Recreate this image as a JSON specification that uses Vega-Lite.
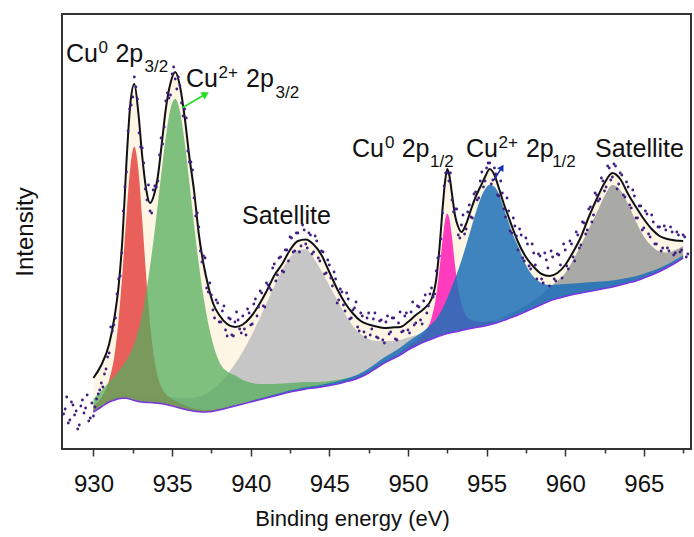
{
  "$schema": "https://vega.github.io/schema/vega-lite/v6.json",
  "width": 629,
  "height": 435,
  "autosize": {"type": "none"},
  "padding": {"left": 62, "top": 14, "right": 3, "bottom": 88},
  "background": "white",
  "config": {
    "view": {"stroke": "#333333", "strokeWidth": 2},
    "font": "Liberation Sans"
  },
  "datasets": {
    "curves": [
      {"e":930,"bg":37,"env":71,"red":43,"grn":50.3,"s1":40.5},
      {"e":930.5,"bg":42,"env":84,"red":51.6,"grn":58.3,"s1":45.7},
      {"e":931,"bg":47,"env":105,"red":69,"grn":67,"s1":51},
      {"e":931.35,"bg":49,"env":133,"red":95,"grn":72.9,"s1":53.2},
      {"e":931.6,"bg":50.2,"env":163,"red":129.2,"grn":77.7,"s1":54.6},
      {"e":931.85,"bg":50.7,"env":212,"red":177.7,"grn":82.9,"s1":55.3},
      {"e":932.1,"bg":50.8,"env":287,"red":233.8,"grn":89.1,"s1":55.6},
      {"e":932.35,"bg":49.6,"env":346,"red":282.6,"grn":96.1,"s1":54.6},
      {"e":932.6,"bg":48.6,"env":365,"red":302.6,"grn":105.7,"s1":53.8},
      {"e":932.85,"bg":47.6,"env":337,"red":280.6,"grn":118.5,"s1":53.1},
      {"e":933.1,"bg":46.9,"env":293,"red":229.9,"grn":135.3,"s1":52.6},
      {"e":933.35,"bg":46.6,"env":260,"red":173.6,"grn":156.8,"s1":52.6},
      {"e":933.6,"bg":46.4,"env":246,"red":125.4,"grn":182.7,"s1":52.7},
      {"e":933.85,"bg":46.1,"env":254,"red":92.1,"grn":212.6,"s1":52.7},
      {"e":934.1,"bg":45.8,"env":273,"red":71.8,"grn":245.8,"s1":52.7},
      {"e":934.35,"bg":45.3,"env":306,"red":61.3,"grn":279.9,"s1":52.6},
      {"e":934.6,"bg":44.6,"env":340,"red":55.3,"grn":311.9,"s1":52.5},
      {"e":934.9,"bg":43.4,"env":366,"red":51.1,"grn":340.3,"s1":51.9},
      {"e":935.2,"bg":42.2,"env":377,"red":48.2,"grn":350.2,"s1":51.4},
      {"e":935.5,"bg":41,"env":363,"red":45.8,"grn":337.9,"s1":51},
      {"e":935.8,"bg":39.8,"env":332,"red":43.8,"grn":307.1,"s1":50.8},
      {"e":936.1,"bg":38.7,"env":292,"red":42,"grn":266.6,"s1":50.8},
      {"e":936.4,"bg":37.8,"env":258,"red":40.6,"grn":224.1,"s1":51.3},
      {"e":936.7,"bg":37.3,"env":215,"red":39.8,"grn":185.1,"s1":52.4},
      {"e":937,"bg":37,"env":185,"red":39.2,"grn":152.2,"s1":54},
      {"e":937.3,"bg":37.2,"env":163,"red":39.1,"grn":125.6,"s1":56.5},
      {"e":937.6,"bg":37.8,"env":146,"red":39.5,"grn":105.6,"s1":59.8},
      {"e":938,"bg":39,"env":134,"red":40.5,"grn":87.3,"s1":65.4},
      {"e":938.5,"bg":41,"env":125,"red":42.3,"grn":77.6,"s1":74.3},
      {"e":939,"bg":43,"env":122,"red":44.1,"grn":73.7,"s1":84.9},
      {"e":939.5,"bg":45,"env":124.5,"red":45.9,"grn":69,"s1":97.5},
      {"e":940,"bg":47,"env":132,"grn":66.3,"s1":112,"blue":48.2},
      {"e":940.5,"bg":49,"env":143.5,"grn":65.1,"s1":128.2,"blue":50.2},
      {"e":941,"bg":51,"env":157.5,"grn":65.1,"s1":145.4,"blue":52.3},
      {"e":941.5,"bg":53,"env":173.5,"grn":65.1,"s1":162.8,"blue":54.4},
      {"e":942,"bg":55,"env":185,"grn":65.4,"s1":178.9,"blue":56.5},
      {"e":942.5,"bg":57,"env":199,"grn":66.1,"s1":191.7,"blue":58.7},
      {"e":943,"bg":58.5,"env":208,"grn":66.5,"s1":199,"blue":60.3},
      {"e":943.5,"bg":60,"env":209.5,"grn":67.1,"s1":199.8,"blue":61.9},
      {"e":944,"bg":61,"env":204.5,"grn":67.1,"s1":191,"blue":63.1},
      {"e":944.5,"bg":62,"env":194,"grn":67.3,"s1":178,"blue":64.3},
      {"e":945,"bg":63.5,"env":177,"grn":68.1,"s1":163.5,"blue":66},
      {"e":945.5,"bg":65,"env":160,"grn":69,"s1":149,"blue":67.8},
      {"e":946,"bg":67,"env":146,"grn":70.5,"s1":135,"blue":70.1},
      {"e":946.5,"bg":69,"env":135.5,"grn":72,"s1":123,"blue":72.4},
      {"e":947,"bg":72,"env":128,"grn":74.8,"s1":115,"blue":75.9},
      {"e":947.5,"bg":76,"env":124.5,"grn":78.5,"s1":110,"blue":80.4},
      {"e":948,"bg":81,"env":122.5,"grn":83.4,"s1":108,"blue":85.9},
      {"e":948.5,"bg":86,"env":121,"grn":88.2,"s1":108,"blue":91.7},
      {"e":949,"bg":90,"env":121.5,"grn":92.1,"s1":108,"blue":96.3},
      {"e":949.5,"bg":94,"env":122,"grn":95.9,"s1":109,"pink":96.5,"blue":101.2},
      {"e":950,"bg":99,"env":127,"grn":100.8,"s1":111.5,"pink":102.5,"blue":107.2},
      {"e":950.5,"bg":103,"env":134,"grn":104.7,"s1":113.7,"pink":108.3,"blue":112.5},
      {"e":951,"bg":107,"env":140,"s1":116.3,"pink":116,"blue":118},
      {"e":951.5,"bg":110,"env":150,"s1":118.2,"pink":131,"blue":125},
      {"e":951.8,"bg":111.8,"env":170,"s1":119.4,"pink":153.8,"blue":130},
      {"e":952,"bg":113,"env":200,"s1":120.3,"pink":179,"blue":135},
      {"e":952.2,"bg":114,"env":240,"s1":121,"pink":209,"blue":140.5},
      {"e":952.35,"bg":114.8,"env":266,"s1":121.6,"pink":227.8,"blue":145.5},
      {"e":952.5,"bg":115.5,"env":280,"s1":122.1,"pink":235.5,"blue":151},
      {"e":952.65,"bg":116,"env":272,"s1":122.4,"pink":229,"blue":156.5},
      {"e":952.8,"bg":116.6,"env":255,"s1":122.8,"pink":211.6,"blue":162.5},
      {"e":953,"bg":117,"env":233,"s1":123,"pink":183,"blue":170.4},
      {"e":953.2,"bg":117.8,"env":222,"s1":123.5,"pink":159.8,"blue":179.2},
      {"e":953.4,"bg":118.6,"env":217,"s1":124.1,"pink":145.6,"blue":188.6},
      {"e":953.7,"bg":119.6,"env":225,"s1":124.8,"pink":133.6,"blue":203.8},
      {"e":954,"bg":120.5,"env":239,"s1":125.5,"pink":129.5,"blue":219.8},
      {"e":954.3,"bg":121.4,"env":252,"s1":126.2,"pink":127.9,"blue":235.7},
      {"e":954.6,"bg":122.3,"env":262,"s1":126.8,"pink":127.3,"blue":249.8},
      {"e":954.9,"bg":123,"env":272,"s1":127.3,"pink":126.8,"blue":259.7},
      {"e":955.2,"bg":124.2,"env":280,"s1":128.3,"pink":127.2,"blue":264.2},
      {"e":955.5,"bg":125.5,"env":274,"s1":129.5,"pink":128,"blue":262.2},
      {"e":955.8,"bg":127,"env":260,"s1":130.9,"blue":254.5},
      {"e":956.1,"bg":128.6,"env":245,"s1":132.4,"blue":240.5,"s2":132.6},
      {"e":956.4,"bg":130.4,"env":232,"s1":134.1,"blue":227,"s2":134.8},
      {"e":956.7,"bg":132.2,"env":219,"s1":135.8,"blue":213.5,"s2":137},
      {"e":957,"bg":134,"env":207,"s1":137.5,"blue":203,"s2":139.3},
      {"e":957.5,"bg":137.5,"env":192,"s1":140.8,"blue":184,"s2":143.8},
      {"e":958,"bg":141,"env":182,"s1":144.1,"blue":172,"s2":148.9},
      {"e":958.5,"bg":144.5,"env":175,"s1":147.4,"blue":166,"s2":154.6},
      {"e":959,"bg":148,"env":173,"s1":150.7,"blue":164,"s2":161.6},
      {"e":959.5,"bg":150.5,"env":176,"s1":153,"blue":164.5,"s2":168},
      {"e":960,"bg":152.5,"env":184,"s1":154.9,"blue":165,"s2":176},
      {"e":960.5,"bg":154.5,"env":197,"s1":156.7,"blue":165.5,"s2":189},
      {"e":961,"bg":156,"env":212,"s1":158.1,"blue":166,"s2":204},
      {"e":961.5,"bg":157.5,"env":232,"s1":159.5,"blue":166.7,"s2":220},
      {"e":962,"bg":159,"env":250,"s1":160.9,"blue":167.2,"s2":236},
      {"e":962.5,"bg":160.5,"env":266,"s1":162.3,"blue":167.8,"s2":253},
      {"e":963,"bg":162,"env":276,"s1":163.7,"blue":168.5,"s2":264},
      {"e":963.5,"bg":164,"env":270,"s1":165.6,"blue":169.8,"s2":259},
      {"e":964,"bg":166,"env":255,"s1":167.5,"blue":171.2,"s2":245},
      {"e":964.5,"bg":168,"env":242,"s1":169.5,"blue":172.7,"s2":227.5},
      {"e":965,"bg":171,"env":230,"s1":172.4,"blue":175.3,"s2":212.6},
      {"e":965.5,"bg":174,"env":220,"s1":175.3,"blue":177.9,"s2":203},
      {"e":966,"bg":177.5,"env":213,"s1":178.8,"blue":181.1,"s2":197.5},
      {"e":966.5,"bg":181.5,"env":210,"s1":182.7,"blue":184.8,"s2":196.5},
      {"e":967,"bg":186,"env":208.5,"s1":187.2,"blue":189,"s2":199},
      {"e":967.5,"bg":191,"env":208,"s1":192.1,"blue":193.8,"s2":203}
    ],
    "points": [
      {"e":928.1,"h":35},{"e":928.2,"h":40},{"e":928.3,"h":52},{"e":928.4,"h":26},{"e":928.5,"h":29},
      {"e":928.6,"h":47},{"e":928.7,"h":44},{"e":928.8,"h":34},{"e":928.9,"h":38},{"e":929.0,"h":20},
      {"e":929.1,"h":24},{"e":929.2,"h":43},{"e":929.3,"h":49},{"e":929.4,"h":36},{"e":929.5,"h":41},
      {"e":929.6,"h":54},{"e":929.7,"h":28},{"e":929.8,"h":31},{"e":929.9,"h":46},{"e":930.0,"h":33},
      {"e":930.1,"h":42},{"e":930.2,"h":50},{"e":930.3,"h":55},{"e":930.4,"h":59},{"e":930.5,"h":66},
      {"e":930.6,"h":62},{"e":930.7,"h":75},{"e":930.8,"h":80},{"e":930.9,"h":92},{"e":931.0,"h":96},
      {"e":931.1,"h":122},{"e":931.2,"h":118},{"e":931.3,"h":124},{"e":931.4,"h":131},{"e":931.5,"h":155},
      {"e":931.6,"h":170},{"e":931.7,"h":173},{"e":931.8,"h":196},{"e":931.9,"h":238},{"e":932.0,"h":262},
      {"e":932.1,"h":277},{"e":932.2,"h":318},{"e":932.3,"h":340},{"e":932.4,"h":344},{"e":932.5,"h":352},
      {"e":932.6,"h":372},{"e":932.7,"h":362},{"e":932.8,"h":350},{"e":932.9,"h":316},{"e":933.0,"h":302},
      {"e":933.1,"h":301},{"e":933.2,"h":286},{"e":933.3,"h":260},{"e":933.4,"h":249},{"e":933.5,"h":264},
      {"e":933.6,"h":238},{"e":933.7,"h":236},{"e":933.8,"h":259},{"e":933.9,"h":263},{"e":934.0,"h":262},
      {"e":934.1,"h":268},{"e":934.2,"h":294},{"e":934.3,"h":311},{"e":934.4,"h":305},{"e":934.5,"h":322},
      {"e":934.6,"h":348},{"e":934.7,"h":356},{"e":934.8,"h":351},{"e":934.9,"h":354},{"e":935.0,"h":375},
      {"e":935.1,"h":382},{"e":935.2,"h":370},{"e":935.3,"h":360},{"e":935.4,"h":372},{"e":935.5,"h":363},
      {"e":935.6,"h":346},{"e":935.7,"h":333},{"e":935.8,"h":340},{"e":935.9,"h":331},{"e":936.0,"h":298},
      {"e":936.1,"h":287},{"e":936.2,"h":287},{"e":936.3,"h":279},{"e":936.4,"h":251},{"e":936.5,"h":233},
      {"e":936.6,"h":236},{"e":936.7,"h":222},{"e":936.8,"h":198},{"e":936.9,"h":187},{"e":937.0,"h":193},
      {"e":937.1,"h":191},{"e":937.2,"h":161},{"e":937.3,"h":157},{"e":937.4,"h":166},{"e":937.5,"h":154},
      {"e":937.6,"h":139},{"e":937.7,"h":131},{"e":937.8,"h":149},{"e":937.9,"h":146},{"e":938.0,"h":127},
      {"e":938.1,"h":127},{"e":938.2,"h":138},{"e":938.3,"h":143},{"e":938.4,"h":119},{"e":938.5,"h":113},
      {"e":938.6,"h":131},{"e":938.7,"h":130},{"e":938.8,"h":114},{"e":938.9,"h":113},{"e":939.0,"h":127},
      {"e":939.1,"h":137},{"e":939.2,"h":129},{"e":939.3,"h":120},{"e":939.4,"h":116},{"e":939.5,"h":133},
      {"e":939.6,"h":120},{"e":939.7,"h":114},{"e":939.8,"h":140},{"e":939.9,"h":136},{"e":940.0,"h":124},
      {"e":940.1,"h":125},{"e":940.2,"h":145},{"e":940.3,"h":150},{"e":940.4,"h":133},{"e":940.5,"h":142},
      {"e":940.6,"h":158},{"e":940.7,"h":156},{"e":940.8,"h":143},{"e":940.9,"h":142},{"e":941.0,"h":166},
      {"e":941.1,"h":164},{"e":941.2,"h":161},{"e":941.3,"h":159},{"e":941.4,"h":181},{"e":941.5,"h":185},
      {"e":941.6,"h":168},{"e":941.7,"h":174},{"e":941.8,"h":191},{"e":941.9,"h":192},{"e":942.0,"h":178},
      {"e":942.1,"h":177},{"e":942.2,"h":199},{"e":942.3,"h":199},{"e":942.4,"h":188},{"e":942.5,"h":212},
      {"e":942.6,"h":211},{"e":942.7,"h":197},{"e":942.8,"h":198},{"e":942.9,"h":216},{"e":943.0,"h":216},
      {"e":943.1,"h":197},{"e":943.2,"h":203},{"e":943.3,"h":224},{"e":943.4,"h":219},{"e":943.5,"h":205},
      {"e":943.6,"h":201},{"e":943.7,"h":216},{"e":943.8,"h":214},{"e":943.9,"h":195},{"e":944.0,"h":197},
      {"e":944.1,"h":213},{"e":944.2,"h":208},{"e":944.3,"h":191},{"e":944.4,"h":188},{"e":944.5,"h":198},
      {"e":944.6,"h":197},{"e":944.7,"h":175},{"e":944.8,"h":176},{"e":944.9,"h":189},{"e":945.0,"h":184},
      {"e":945.1,"h":171},{"e":945.2,"h":163},{"e":945.3,"h":177},{"e":945.4,"h":170},{"e":945.5,"h":146},
      {"e":945.6,"h":149},{"e":945.7,"h":160},{"e":945.8,"h":157},{"e":945.9,"h":144},{"e":946.0,"h":138},
      {"e":946.1,"h":156},{"e":946.2,"h":150},{"e":946.3,"h":130},{"e":946.4,"h":131},{"e":946.5,"h":139},
      {"e":946.6,"h":141},{"e":946.7,"h":147},{"e":946.8,"h":122},{"e":946.9,"h":118},{"e":947.0,"h":136},
      {"e":947.1,"h":133},{"e":947.2,"h":117},{"e":947.3,"h":112},{"e":947.4,"h":131},{"e":947.5,"h":136},
      {"e":947.6,"h":114},{"e":947.7,"h":120},{"e":947.8,"h":130},{"e":947.9,"h":136},{"e":948.0,"h":112},
      {"e":948.1,"h":111},{"e":948.2,"h":128},{"e":948.3,"h":129},{"e":948.4,"h":109},{"e":948.5,"h":106},
      {"e":948.6,"h":127},{"e":948.7,"h":133},{"e":948.8,"h":115},{"e":948.9,"h":117},{"e":949.0,"h":131},
      {"e":949.1,"h":131},{"e":949.2,"h":110},{"e":949.3,"h":109},{"e":949.4,"h":126},{"e":949.5,"h":137},
      {"e":949.6,"h":117},{"e":949.7,"h":118},{"e":949.8,"h":133},{"e":949.9,"h":136},{"e":950.0,"h":119},
      {"e":950.1,"h":116},{"e":950.2,"h":137},{"e":950.3,"h":147},{"e":950.4,"h":124},{"e":950.5,"h":126},
      {"e":950.6,"h":143},{"e":950.7,"h":142},{"e":950.8,"h":129},{"e":950.9,"h":125},{"e":951.0,"h":148},
      {"e":951.1,"h":154},{"e":951.2,"h":136},{"e":951.3,"h":143},{"e":951.4,"h":155},{"e":951.5,"h":161},
      {"e":951.6,"h":152},{"e":951.7,"h":155},{"e":951.8,"h":178},{"e":951.9,"h":191},{"e":952.0,"h":193},
      {"e":952.1,"h":210},{"e":952.2,"h":236},{"e":952.3,"h":263},{"e":952.4,"h":276},{"e":952.5,"h":276},
      {"e":952.6,"h":268},{"e":952.7,"h":276},{"e":952.8,"h":249},{"e":952.9,"h":237},{"e":953.0,"h":240},
      {"e":953.1,"h":240},{"e":953.2,"h":214},{"e":953.3,"h":211},{"e":953.4,"h":224},{"e":953.5,"h":234},
      {"e":953.6,"h":215},{"e":953.7,"h":220},{"e":953.8,"h":237},{"e":953.9,"h":244},{"e":954.0,"h":232},
      {"e":954.1,"h":231},{"e":954.2,"h":255},{"e":954.3,"h":257},{"e":954.4,"h":249},{"e":954.5,"h":251},
      {"e":954.6,"h":268},{"e":954.7,"h":277},{"e":954.8,"h":262},{"e":954.9,"h":268},{"e":955.0,"h":281},
      {"e":955.1,"h":286},{"e":955.2,"h":286},{"e":955.3,"h":265},{"e":955.4,"h":269},{"e":955.5,"h":281},
      {"e":955.6,"h":275},{"e":955.7,"h":254},{"e":955.8,"h":253},{"e":955.9,"h":268},{"e":956.0,"h":256},
      {"e":956.1,"h":240},{"e":956.2,"h":232},{"e":956.3,"h":251},{"e":956.4,"h":238},{"e":956.5,"h":218},
      {"e":956.6,"h":216},{"e":956.7,"h":231},{"e":956.8,"h":223},{"e":956.9,"h":213},{"e":957.0,"h":199},
      {"e":957.1,"h":220},{"e":957.2,"h":214},{"e":957.3,"h":191},{"e":957.4,"h":188},{"e":957.5,"h":211},
      {"e":957.6,"h":205},{"e":957.7,"h":183},{"e":957.8,"h":180},{"e":957.9,"h":205},{"e":958.0,"h":196},
      {"e":958.1,"h":184},{"e":958.2,"h":170},{"e":958.3,"h":195},{"e":958.4,"h":193},{"e":958.5,"h":170},
      {"e":958.6,"h":166},{"e":958.7,"h":196},{"e":958.8,"h":189},{"e":958.9,"h":181},{"e":959.0,"h":163},
      {"e":959.1,"h":198},{"e":959.2,"h":192},{"e":959.3,"h":170},{"e":959.4,"h":168},{"e":959.5,"h":195},
      {"e":959.6,"h":194},{"e":959.7,"h":184},{"e":959.8,"h":171},{"e":959.9,"h":205},{"e":960.0,"h":199},
      {"e":960.1,"h":183},{"e":960.2,"h":180},{"e":960.3,"h":208},{"e":960.4,"h":205},{"e":960.5,"h":192},
      {"e":960.6,"h":188},{"e":960.7,"h":217},{"e":960.8,"h":214},{"e":960.9,"h":201},{"e":961.0,"h":204},
      {"e":961.1,"h":227},{"e":961.2,"h":226},{"e":961.3,"h":215},{"e":961.4,"h":219},{"e":961.5,"h":240},
      {"e":961.6,"h":242},{"e":961.7,"h":227},{"e":961.8,"h":234},{"e":961.9,"h":256},{"e":962.0,"h":254},
      {"e":962.1,"h":248},{"e":962.2,"h":250},{"e":962.3,"h":271},{"e":962.4,"h":268},{"e":962.5,"h":258},
      {"e":962.6,"h":262},{"e":962.7,"h":283},{"e":962.8,"h":281},{"e":962.9,"h":269},{"e":963.0,"h":272},
      {"e":963.1,"h":285},{"e":963.2,"h":283},{"e":963.3,"h":260},{"e":963.4,"h":265},{"e":963.5,"h":276},
      {"e":963.6,"h":274},{"e":963.7,"h":254},{"e":963.8,"h":252},{"e":963.9,"h":267},{"e":964.0,"h":262},
      {"e":964.1,"h":244},{"e":964.2,"h":241},{"e":964.3,"h":259},{"e":964.4,"h":253},{"e":964.5,"h":231},
      {"e":964.6,"h":231},{"e":964.7,"h":243},{"e":964.8,"h":243},{"e":964.9,"h":219},{"e":965.0,"h":221},
      {"e":965.1,"h":238},{"e":965.2,"h":235},{"e":965.3,"h":215},{"e":965.4,"h":212},{"e":965.5,"h":234},
      {"e":965.6,"h":227},{"e":965.7,"h":205},{"e":965.8,"h":205},{"e":965.9,"h":222},{"e":966.0,"h":222},
      {"e":966.1,"h":198},{"e":966.2,"h":201},{"e":966.3,"h":223},{"e":966.4,"h":219},{"e":966.5,"h":201},
      {"e":966.6,"h":198},{"e":966.7,"h":222},{"e":966.8,"h":217},{"e":966.9,"h":194},{"e":967.0,"h":196},
      {"e":967.1,"h":217},{"e":967.2,"h":214},{"e":967.3,"h":197},{"e":967.4,"h":199},{"e":967.5,"h":214},
      {"e":967.6,"h":212},{"e":967.7,"h":192},{"e":967.8,"h":195}
    ],
    "labels": [
      {"e":928.254,"h":387,"t":"Cu","k":"main"},
      {"e":930.321,"h":396,"t":"0","k":"sup"},
      {"e":931.4,"h":387,"t":"2p","k":"main"},
      {"e":933.25,"h":377,"t":"3/2","k":"sub"},
      {"e":935.886,"h":362,"t":"Cu","k":"main"},
      {"e":937.952,"h":371,"t":"2+","k":"sup"},
      {"e":939.7,"h":362,"t":"2p","k":"main"},
      {"e":941.58,"h":351,"t":"3/2","k":"sub"},
      {"e":946.442,"h":292,"t":"Cu","k":"main"},
      {"e":948.54,"h":301,"t":"0","k":"sup"},
      {"e":949.6,"h":292,"t":"2p","k":"main"},
      {"e":951.4,"h":282,"t":"1/2","k":"sub"},
      {"e":953.692,"h":292,"t":"Cu","k":"main"},
      {"e":955.758,"h":301,"t":"2+","k":"sup"},
      {"e":957.5,"h":292,"t":"2p","k":"main"},
      {"e":959.17,"h":282,"t":"1/2","k":"sub"},
      {"e":961.895,"h":292,"t":"Satellite","k":"main"},
      {"e":939.447,"h":225,"t":"Satellite","k":"main"}
    ]
  },
  "encoding": {
    "x": {
      "field": "e",
      "type": "quantitative",
      "scale": {"domain": [928, 968], "nice": false, "zero": false},
      "axis": {
        "values": [930, 932.5, 935, 937.5, 940, 942.5, 945, 947.5, 950, 952.5, 955, 957.5, 960, 962.5, 965, 967.5],
        "format": "d",
        "labelExpr": "datum.value % 5 === 0 ? datum.label : ''",
        "tickSize": {"condition": {"test": "datum.value % 5 === 0", "value": 7}, "value": 4},
        "tickColor": "#333333",
        "tickWidth": 1.5,
        "domain": false,
        "grid": false,
        "labelFont": "Liberation Sans",
        "labelFontSize": 24,
        "labelColor": "#111111",
        "labelPadding": 16,
        "labelOverlap": false,
        "labelFlush": false,
        "title": "Binding energy (eV)",
        "titleFont": "Liberation Sans",
        "titleFontSize": 22,
        "titleFontWeight": "normal",
        "titleColor": "#111111",
        "titlePadding": 12,
        "titleX": 290,
        "titleAlign": "center"
      }
    }
  },
  "layer": [
    {
      "data": {"name": "curves"},
      "mark": {"type": "area", "color": "#fef6e4", "interpolate": "monotone"},
      "encoding": {
        "y": {
          "field": "env", "type": "quantitative",
          "scale": {"domain": [0, 435], "nice": false, "zero": false},
          "axis": {
            "title": "Intensity", "labels": false, "ticks": false, "domain": false, "grid": false,
            "titleFont": "Liberation Sans", "titleFontSize": 24, "titleFontWeight": "normal",
            "titleColor": "#111111", "titlePadding": 25
          }
        },
        "y2": {"field": "bg"}
      }
    },
    {
      "data": {"name": "curves"},
      "mark": {"type": "area", "color": "#c6c6c6", "interpolate": "monotone"},
      "encoding": {"y": {"field": "s1", "type": "quantitative"}, "y2": {"field": "bg"}}
    },
    {
      "data": {"name": "curves"},
      "mark": {"type": "area", "color": "#a9a9a5", "interpolate": "monotone"},
      "encoding": {"y": {"field": "s2", "type": "quantitative"}, "y2": {"field": "bg"}}
    },
    {
      "data": {"name": "curves"},
      "mark": {"type": "area", "color": "#e44541", "opacity": 0.85, "interpolate": "monotone"},
      "encoding": {"y": {"field": "red", "type": "quantitative"}, "y2": {"field": "bg"}}
    },
    {
      "data": {"name": "curves"},
      "mark": {"type": "area", "color": "#56ad5e", "opacity": 0.75, "interpolate": "monotone"},
      "encoding": {"y": {"field": "grn", "type": "quantitative"}, "y2": {"field": "bg"}}
    },
    {
      "data": {"name": "curves"},
      "mark": {"type": "area", "color": "#ff3cbe", "opacity": 1, "interpolate": "monotone"},
      "encoding": {"y": {"field": "pink", "type": "quantitative"}, "y2": {"field": "bg"}}
    },
    {
      "data": {"name": "curves"},
      "mark": {"type": "area", "color": "#1f70b9", "opacity": 0.85, "interpolate": "monotone"},
      "encoding": {"y": {"field": "blue", "type": "quantitative"}, "y2": {"field": "bg"}}
    },
    {
      "data": {"name": "curves"},
      "mark": {"type": "line", "color": "#7a35e0", "strokeWidth": 1.5, "interpolate": "monotone"},
      "encoding": {"y": {"field": "bg", "type": "quantitative"}}
    },
    {
      "data": {"name": "curves"},
      "mark": {"type": "line", "color": "#111111", "strokeWidth": 2, "interpolate": "monotone"},
      "encoding": {"y": {"field": "env", "type": "quantitative"}}
    },
    {
      "data": {"name": "points"},
      "mark": {"type": "circle", "color": "#3f1f80", "size": 8, "opacity": 1},
      "encoding": {"y": {"field": "h", "type": "quantitative"}}
    },
    {
      "data": {"name": "labels"},
      "transform": [{"filter": "datum.k === 'main'"}],
      "mark": {"type": "text", "align": "left", "baseline": "alphabetic", "font": "Liberation Sans", "fontSize": 25, "color": "#111111"},
      "encoding": {"y": {"field": "h", "type": "quantitative"}, "text": {"field": "t"}}
    },
    {
      "data": {"name": "labels"},
      "transform": [{"filter": "datum.k !== 'main'"}],
      "mark": {"type": "text", "align": "left", "baseline": "alphabetic", "font": "Liberation Sans", "fontSize": 17, "color": "#111111"},
      "encoding": {"y": {"field": "h", "type": "quantitative"}, "text": {"field": "t"}}
    },
    {
      "data": {"values": [{"e": 935.631, "h": 341, "e2": 937.132, "h2": 355}]},
      "mark": {"type": "rule", "color": "#22dd22", "strokeWidth": 1.5},
      "encoding": {"y": {"field": "h", "type": "quantitative"}, "x2": {"field": "e2"}, "y2": {"field": "h2"}}
    },
    {
      "data": {"values": [{"e": 937.132, "h": 355}]},
      "mark": {"type": "point", "shape": "triangle-right", "angle": 329, "size": 70, "filled": true, "color": "#22dd22", "opacity": 1},
      "encoding": {"y": {"field": "h", "type": "quantitative"}}
    },
    {
      "data": {"values": [{"e": 955.472, "h": 269, "e2": 955.975, "h2": 281.6}]},
      "mark": {"type": "rule", "color": "#1a30b0", "strokeWidth": 1.5},
      "encoding": {"y": {"field": "h", "type": "quantitative"}, "x2": {"field": "e2"}, "y2": {"field": "h2"}}
    },
    {
      "data": {"values": [{"e": 955.975, "h": 281.6}]},
      "mark": {"type": "point", "shape": "triangle-right", "angle": 302, "size": 55, "filled": true, "color": "#1a30b0", "opacity": 1},
      "encoding": {"y": {"field": "h", "type": "quantitative"}}
    }
  ]
}
